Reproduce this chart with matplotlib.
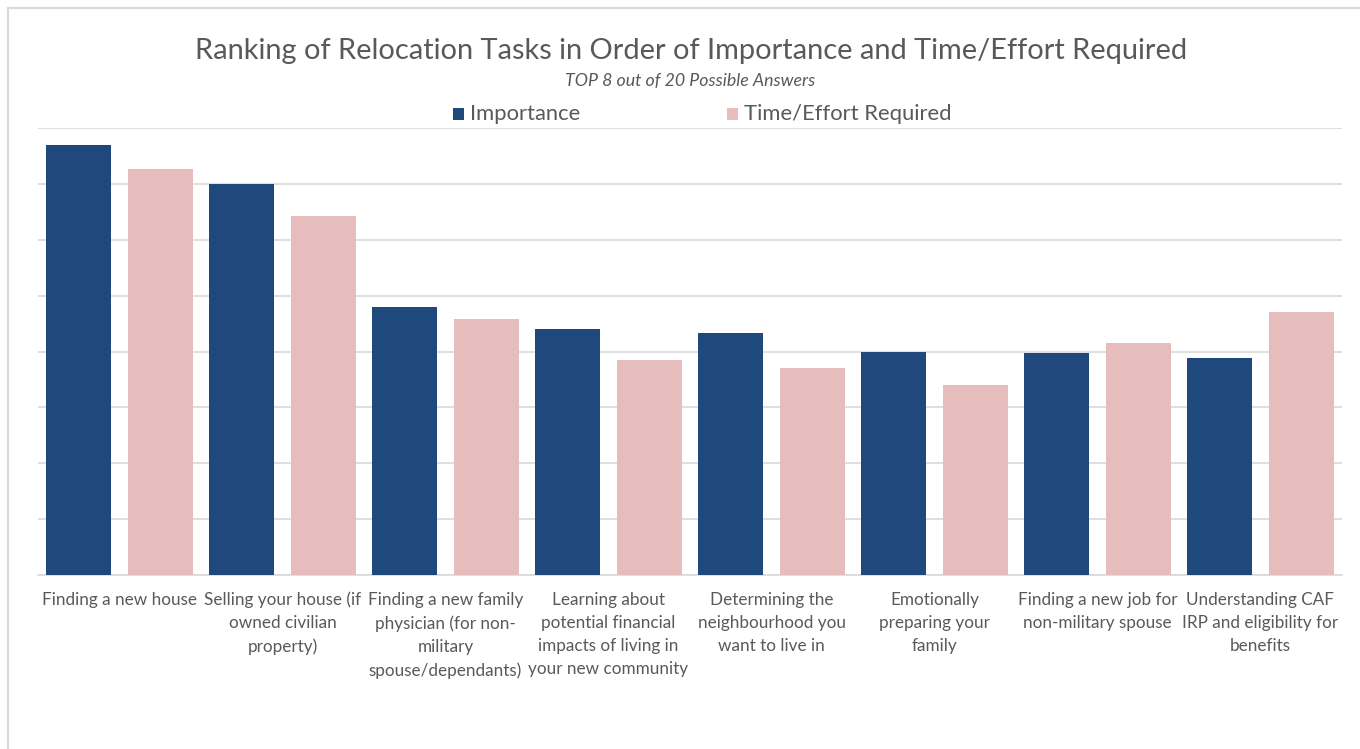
import matplotlib
matplotlib.use("Agg")
import matplotlib.pyplot as plt
import numpy as np
from matplotlib.patches import Rectangle

plt.rcParams["font.family"] = ["Lato", "DejaVu Sans"]

TEXT = "#595959"; GRID = "#D9D9D9"
BLUE = "#1F497D"; PINK = "#E6BCBC"

tasks = ["Finding a new house",
         "Selling your house (if\nowned civilian\nproperty)",
         "Finding a new family\nphysician (for non-\nmilitary\nspouse/dependants)",
         "Learning about\npotential financial\nimpacts of living in\nyour new community",
         "Determining the\nneighbourhood you\nwant to live in",
         "Emotionally\npreparing your\nfamily",
         "Finding a new job for\nnon-military spouse",
         "Understanding CAF\nIRP and eligibility for\nbenefits"]
importance = [7.70, 7.00, 4.79, 4.41, 4.34, 4.00, 3.97, 3.88]
time_effort = [7.27, 6.42, 4.59, 3.84, 3.70, 3.40, 4.15, 4.70]

W, H = 1360, 749
fig = plt.figure(figsize=(W/100, H/100), dpi=100)
ax = fig.add_axes([38/W, 1-575/H, (1342-38)/W, (575-128)/H])

x = np.arange(len(tasks))
ax.bar(x-0.25, importance, 0.4, color=BLUE, zorder=3)
ax.bar(x+0.25, time_effort, 0.4, color=PINK, zorder=3)

ax.set_xlim(-0.5, len(tasks)-0.5)
ax.set_ylim(0, 8)
ax.set_yticks(range(0, 9))
ax.set_yticklabels([])
ax.grid(axis="y", color=GRID, lw=1.2, zorder=0)
ax.tick_params(axis="y", length=0)
ax.tick_params(axis="x", length=0, pad=12)
ax.set_xticks(x)
ax.set_xticklabels(tasks, fontsize=12.3, color=TEXT, linespacing=1.55, va="top", ha="center")
for s in ["top", "right", "left"]:
    ax.spines[s].set_visible(False)
ax.spines["bottom"].set_color(GRID)
ax.spines["bottom"].set_linewidth(1.2)

# chart border (left and top edges visible)
fig.add_artist(Rectangle((8/W, -0.1), 1.2, 1-8/H+0.1, transform=fig.transFigure,
                         fill=False, ec="#D9D9D9", lw=1.5))

fig.text(691/W, 1-51/H, "Ranking of Relocation Tasks in Order of Importance and Time/Effort Required",
         ha="center", va="center", fontsize=20.9, color=TEXT)
fig.text(690/W, 1-81/H, "TOP 8 out of 20 Possible Answers", ha="center", va="center",
         fontsize=12.8, color=TEXT, style="italic")

# legend
for lx, lab, c in [(453, "Importance", BLUE), (727, "Time/Effort Required", PINK)]:
    fig.add_artist(Rectangle((lx/W, 1-120/H), 11/W, 12/H, transform=fig.transFigure,
                             fc=c, ec="none"))
    fig.text((lx+17)/W, 1-114/H, lab, ha="left", va="center", fontsize=15.8, color=TEXT)

fig.savefig("out.png", dpi=100, facecolor="white")
